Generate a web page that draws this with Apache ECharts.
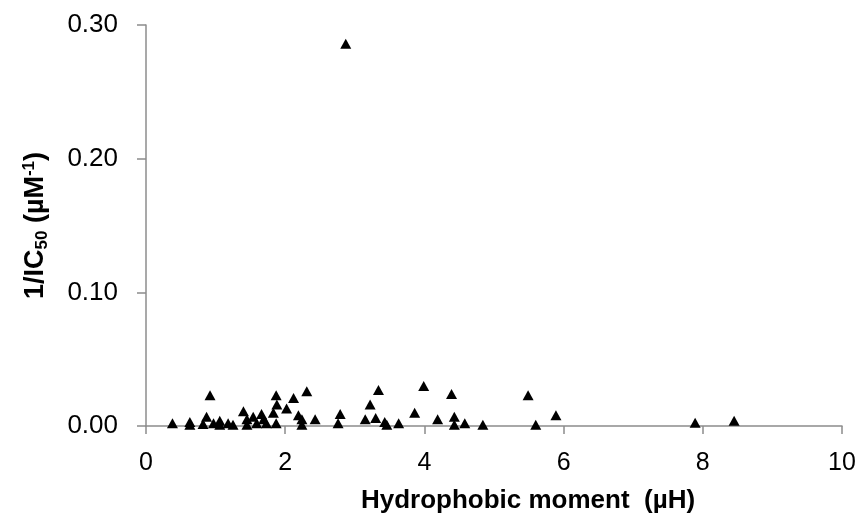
<!DOCTYPE html>
<html>
<head>
<meta charset="utf-8">
<script src="https://cdn.jsdelivr.net/npm/echarts@6/dist/echarts.min.js"></script>
<style>html,body{margin:0;padding:0;background:#fff}#c{width:861px;height:517px}</style>
</head>
<body>
<div id="c"></div>
<script>
const hydrophobicMoment = [0.38,0.63,0.63,0.82,0.87,0.92,0.97,1.06,1.06,1.18,1.25,1.40,1.45,1.45,1.54,1.59,1.66,1.69,1.73,1.83,1.87,1.87,1.88,2.02,2.12,2.19,2.24,2.24,2.31,2.43,2.76,2.79,2.87,3.15,3.22,3.30,3.34,3.43,3.46,3.63,3.86,3.99,4.19,4.39,4.43,4.43,4.58,4.84,5.49,5.60,5.89,7.89,8.45];
const invIC50 = [0.002,0.003,0.001,0.0015,0.007,0.023,0.002,0.004,0.001,0.002,0.001,0.011,0.005,0.001,0.007,0.002,0.009,0.005,0.002,0.010,0.023,0.002,0.016,0.013,0.021,0.008,0.005,0.001,0.026,0.005,0.002,0.009,0.286,0.005,0.016,0.006,0.027,0.003,0.001,0.002,0.010,0.030,0.005,0.024,0.007,0.001,0.002,0.001,0.023,0.001,0.008,0.0025,0.004];
const xTicks = [0,2,4,6,8,10];
const yTicks = [0,0.1,0.2,0.3];

const points = hydrophobicMoment.map((x,i)=>[x, invIC50[i]]);
const FONT = '"Liberation Sans", Arial, sans-serif';
const chart = echarts.init(document.getElementById('c'), null, {renderer:'canvas'});
chart.setOption({
  animation:false,
  backgroundColor:'#fff',
  grid:{left:146,right:19,top:25,bottom:91,containLabel:false,outerBoundsMode:'none'},
  xAxis:{
    type:'value', min:xTicks[0], max:xTicks[xTicks.length-1], interval:2,
    splitLine:{show:false},
    axisLine:{lineStyle:{color:'#8c8c8c',width:1.5}},
    axisTick:{show:true,length:8,lineStyle:{color:'#8c8c8c',width:1.5}},
    axisLabel:{fontFamily:FONT,fontSize:25,color:'#000',margin:25},
    name:'Hydrophobic moment  (\u00b5H)', nameLocation:'middle', nameGap:62,
    nameTextStyle:{fontFamily:FONT,fontSize:26,fontWeight:'bold',color:'#000',padding:[0,0,0,68]}
  },
  yAxis:{
    type:'value', min:yTicks[0], max:yTicks[yTicks.length-1], interval:0.1,
    splitLine:{show:false},
    axisLine:{show:true,lineStyle:{color:'#8c8c8c',width:1.5}},
    axisTick:{show:true,length:9,lineStyle:{color:'#8c8c8c',width:1.5}},
    axisLabel:{fontFamily:FONT,fontSize:26,color:'#000',margin:28,formatter:v=>v.toFixed(2)},
    name:'{m|1/IC}{sub|50}{m| (\u00b5M}{sup|-1}{m|)}', nameLocation:'middle', nameGap:95, nameRotate:90,
    nameTextStyle:{
      fontFamily:FONT,fontWeight:'bold',color:'#000',
      rich:{
        m:{fontFamily:FONT,fontSize:27,fontWeight:'bold',color:'#000',lineHeight:30,verticalAlign:'middle'},
        sub:{fontFamily:FONT,fontSize:17,fontWeight:'bold',color:'#000',lineHeight:30,verticalAlign:'bottom'},
        sup:{fontFamily:FONT,fontSize:17,fontWeight:'bold',color:'#000',lineHeight:30,verticalAlign:'top'}
      }
    }
  },
  series:[{
    type:'scatter', data:points, symbol:'triangle', symbolSize:[11,10],
    itemStyle:{color:'#000',opacity:1}
  }]
});
</script>
</body>
</html>
